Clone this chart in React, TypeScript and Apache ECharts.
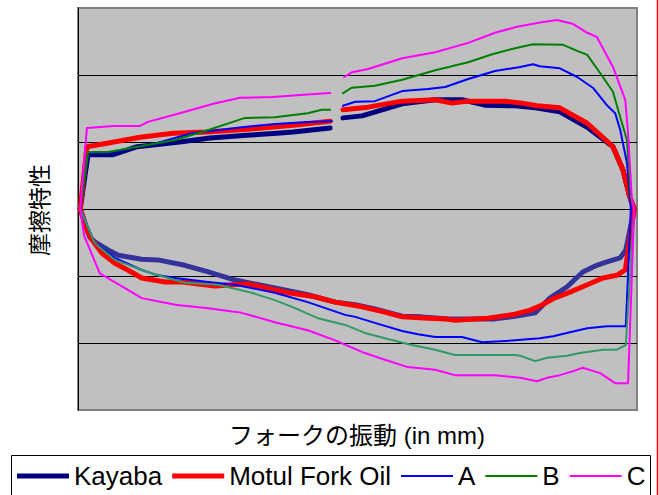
import React, { useEffect, useRef } from "react";
import * as echarts from "echarts";

type Pt = [number, number] | null;

// Axis extents (x: stroke position scale 0..100, y: friction -3..3)
const xRange = [0, 100];
const yRange = [-3, 3];
const yInterval = 1;

const seriesNames = ["Kayaba", "Motul Fork Oil", "A", "B", "C"];

// Upper (compression) branches, left to right; null = gap in the trace
const kayabaUp: Pt[] = [
  [0.4, 0], [1.8, 0.81], [6.3, 0.81], [10.6, 0.93], [18.2, 1.0], [23.6, 1.06], [30.2, 1.1], [35.6, 1.13],
  [38.5, 1.15], [45.1, 1.21], null, [47.4, 1.36], [50.8, 1.39], [58.0, 1.57], [63.9, 1.63], [68.7, 1.63],
  [72.8, 1.55], [78.2, 1.54], [81.8, 1.51], [86.2, 1.45], [91.1, 1.22], [95.7, 0.93], [97.5, 0.58],
  [98.7, 0.18], [99.5, 0],
];
const motulUp: Pt[] = [
  [0.4, 0], [1.6, 0.93], [5.7, 0.99], [11.1, 1.07], [17.0, 1.13], [23.1, 1.15], [30.2, 1.19], [38.5, 1.25],
  [45.1, 1.31], null, [47.4, 1.48], [51.9, 1.52], [58.0, 1.61], [63.9, 1.63], [66.9, 1.58], [69.8, 1.61],
  [76.4, 1.61], [79.4, 1.58], [82.1, 1.54], [86.2, 1.51], [91.1, 1.28], [95.7, 0.93], [97.5, 0.58],
  [98.7, 0.18], [99.5, 0],
];
const aUp: Pt[] = [
  [0.4, 0], [1.8, 0.84], [5.4, 0.84], [14.3, 0.99], [20.4, 1.13], [29.3, 1.22], [35.2, 1.27], [41.1, 1.3],
  [45.4, 1.31], null, [47.4, 1.54], [49.6, 1.6], [53.1, 1.61], [58.0, 1.76], [62.6, 1.79], [65.7, 1.82],
  [69.8, 1.94], [74.6, 2.06], [79.1, 2.12], [81.4, 2.16], [82.6, 2.13], [86.2, 2.1], [89.3, 1.97],
  [92.1, 1.81], [94.6, 1.55], [96.1, 1.43], [97.0, 1.18], [98.2, 0.69], [98.9, 0],
];
const bUp: Pt[] = [
  [0.4, 0], [1.8, 0.85], [5.4, 0.85], [17.4, 1.03], [23.3, 1.18], [29.9, 1.36], [35.2, 1.37], [41.1, 1.43],
  [43.6, 1.48], [45.1, 1.48], null, [47.4, 1.73], [49.0, 1.81], [53.1, 1.84], [58.0, 1.93], [63.9, 2.07],
  [69.8, 2.19], [74.1, 2.31], [78.2, 2.4], [81.4, 2.46], [86.8, 2.45], [89.3, 2.36], [91.1, 2.3],
  [93.4, 2.03], [95.7, 1.75], [97.0, 1.37], [98.2, 1.03], [98.9, 0.15], [99.5, 0],
];
const cUp: Pt[] = [
  [0.4, 0], [1.6, 1.21], [6.3, 1.24], [11.1, 1.24], [12.5, 1.3], [18.2, 1.43], [24.2, 1.57], [29.0, 1.66],
  [34.9, 1.67], [39.7, 1.7], [45.1, 1.73], null, [47.6, 1.97], [49.0, 2.04], [51.9, 2.09], [58.0, 2.25],
  [63.9, 2.34], [69.8, 2.48], [74.6, 2.63], [78.5, 2.72], [83.2, 2.79], [85.7, 2.82], [88.6, 2.76],
  [91.1, 2.63], [92.8, 2.57], [95.7, 2.12], [97.9, 1.63], [98.4, 1.13], [99.1, 0.13], [99.5, 0],
];

// Lower (rebound) branches, right to left
const kayabaDown: Pt[] = [
  [99.5, 0], [98.0, -0.61], [97.0, -0.73], [94.6, -0.79], [92.8, -0.84], [90.3, -0.94], [87.5, -1.16],
  [84.4, -1.33], [81.8, -1.55], [78.2, -1.6], [74.6, -1.64], [71.0, -1.64], [66.2, -1.64], [61.5, -1.61],
  [58.0, -1.6], [53.1, -1.49], [49.6, -1.43], [46.0, -1.39], [41.1, -1.28], [35.2, -1.18], [28.1, -1.06],
  [23.3, -0.94], [19.1, -0.84], [14.3, -0.76], [11.4, -0.75], [7.2, -0.69], [5.4, -0.61], [3.0, -0.49],
  [2.1, -0.42], [1.6, -0.31], [0.9, -0.12], [0.4, 0],
];
const motulDown: Pt[] = [
  [99.5, 0], [98.7, -0.46], [97.9, -0.91], [96.4, -0.99], [93.9, -1.03], [91.1, -1.13], [88.0, -1.24],
  [85.0, -1.34], [82.6, -1.45], [80.9, -1.51], [78.2, -1.57], [73.3, -1.63], [71.0, -1.64], [67.4, -1.66],
  [65.7, -1.64], [62.6, -1.63], [58.0, -1.61], [54.9, -1.54], [50.8, -1.46], [46.0, -1.39], [42.4, -1.31],
  [37.6, -1.25], [30.4, -1.12], [27.5, -1.13], [24.5, -1.15], [18.6, -1.09], [15.6, -1.09], [11.4, -1.03],
  [8.9, -0.91], [6.6, -0.81], [4.3, -0.66], [2.5, -0.46], [1.6, -0.31], [0.4, 0],
];
const aDown: Pt[] = [
  [98.9, 0], [98.0, -1.75], [94.6, -1.75], [91.1, -1.78], [88.0, -1.84], [85.0, -1.9], [82.6, -1.93],
  [78.2, -1.96], [72.3, -1.99], [68.7, -1.91], [63.9, -1.91], [60.8, -1.87], [58.0, -1.82], [53.1, -1.7],
  [49.6, -1.61], [47.8, -1.58], [41.1, -1.39], [35.2, -1.25], [28.1, -1.13], [23.3, -1.09], [17.4, -1.03],
  [14.3, -0.99], [11.4, -0.91], [6.6, -0.73], [3.0, -0.51], [0.4, 0],
];
const bDown: Pt[] = [
  [99.5, 0], [98.0, -2.03], [96.4, -2.1], [93.9, -2.1], [89.8, -2.15], [87.5, -2.19], [83.9, -2.22],
  [81.8, -2.27], [79.1, -2.19], [78.2, -2.18], [67.4, -2.18], [63.9, -2.1], [59.7, -2.03], [54.9, -1.93],
  [51.3, -1.85], [47.8, -1.73], [42.9, -1.63], [38.3, -1.46], [35.2, -1.36], [31.1, -1.25], [25.0, -1.13],
  [19.1, -1.1], [14.3, -0.99], [11.4, -0.91], [6.6, -0.76], [3.0, -0.51], [0.4, 0],
];
const cDown: Pt[] = [
  [99.5, 0], [98.4, -2.6], [96.1, -2.6], [93.4, -2.45], [90.3, -2.37], [88.6, -2.42], [86.2, -2.48],
  [83.9, -2.52], [82.1, -2.57], [79.1, -2.52], [78.2, -2.51], [74.6, -2.48], [67.4, -2.48], [63.9, -2.4],
  [59.0, -2.36], [54.9, -2.25], [51.3, -2.15], [46.0, -1.96], [41.1, -1.81], [35.2, -1.69], [29.3, -1.55],
  [23.3, -1.48], [17.4, -1.43], [11.4, -1.33], [8.4, -1.18], [3.9, -0.96], [1.1, -0.4], [0.4, 0],
];

const toData = (arr: Pt[]) => arr.map((p) => (p ? p : ["-", "-"]));

const FONT = '"Liberation Sans", Arial, "Noto Sans CJK JP", sans-serif';
const THICK_ICON = "path://M0,0H52V5H0Z";
const THIN_ICON = "path://M0,0H52V2H0Z";

export default function App() {
  const ref = useRef<HTMLDivElement>(null);

  useEffect(() => {
    if (!ref.current) return;
    const chart = echarts.init(ref.current, undefined, { renderer: "svg" });

    const mk = (name: string, data: Pt[], color: string, width: number) => ({
      name,
      type: "line",
      data: toData(data),
      symbol: "none",
      showSymbol: false,
      connectNulls: false,
      silent: true,
      lineStyle: { color, width, cap: "round", join: "round" },
      itemStyle: { color },
      emphasis: { disabled: true },
    });

    const option: any = {
      animation: false,
      backgroundColor: "#ffffff",
      grid: {
        left: 78,
        top: 8,
        width: 559,
        height: 402,
        show: true,
        backgroundColor: "#c0c0c0",
        borderColor: "#808080",
        borderWidth: 2,
      },
      xAxis: {
        type: "value",
        min: xRange[0],
        max: xRange[1],
        axisLine: { show: false },
        axisTick: { show: false },
        axisLabel: { show: false },
        splitLine: { show: false },
      },
      yAxis: {
        type: "value",
        min: yRange[0],
        max: yRange[1],
        interval: yInterval,
        axisLine: { show: true, lineStyle: { color: "#000000", width: 1 } },
        axisTick: { show: false },
        axisLabel: { show: false },
        splitLine: {
          show: true,
          lineStyle: {
            color: ["#808080", "#000000", "#000000", "#000000", "#000000", "#000000", "#808080"],
            width: 1,
          },
        },
      },
      legend: {
        left: 17,
        top: 463,
        padding: 0,
        itemWidth: 52,
        itemHeight: 14,
        itemGap: 10,
        selectedMode: false,
        textStyle: { fontSize: 26, fontFamily: FONT, color: "#000000" },
        data: [
          { name: seriesNames[0], icon: THICK_ICON, itemStyle: { color: "#000080" } },
          { name: seriesNames[1], icon: THICK_ICON, itemStyle: { color: "#ff0000" } },
          { name: seriesNames[2], icon: THIN_ICON, itemStyle: { color: "#0000ff" } },
          { name: seriesNames[3], icon: THIN_ICON, itemStyle: { color: "#008000" } },
          { name: seriesNames[4], icon: THIN_ICON, itemStyle: { color: "#ff00ff" } },
        ],
      },
      graphic: [
        {
          type: "rect",
          shape: { x: 11.5, y: 455.5, width: 639, height: 60 },
          style: { fill: "none", stroke: "#000000", lineWidth: 1 },
          silent: true,
        },
        {
          type: "line",
          shape: { x1: 657.5, y1: 0, x2: 657.5, y2: 495 },
          style: { stroke: "#ff0000", lineWidth: 1.5 },
          silent: true,
        },
        {
          type: "text",
          x: 357,
          y: 435,
          style: {
            text: "フォークの振動 (in mm)",
            fontSize: 24,
            fontFamily: FONT,
            fill: "#000000",
            textAlign: "center",
            textVerticalAlign: "middle",
          },
          silent: true,
        },
        {
          type: "text",
          x: 40,
          y: 210,
          rotation: Math.PI / 2,
          style: {
            text: "摩擦特性",
            fontSize: 23,
            fontFamily: FONT,
            fill: "#000000",
            textAlign: "center",
            textVerticalAlign: "middle",
          },
          silent: true,
        },
      ],
      series: [
        mk(seriesNames[0], kayabaUp, "#000080", 5),
        mk("Kayaba (return)", kayabaDown, "#333399", 5),
        mk(seriesNames[1], motulUp, "#ff0000", 5),
        mk("Motul Fork Oil (return)", motulDown, "#ff0000", 5),
        mk(seriesNames[2], aUp, "#0000ff", 2),
        mk("A (return)", aDown, "#0000ff", 2),
        mk(seriesNames[3], bUp, "#008000", 2),
        mk("B (return)", bDown, "#339966", 2),
        mk(seriesNames[4], cUp, "#ff00ff", 2),
        mk("C (return)", cDown, "#ff00ff", 2),
      ],
    };

    chart.setOption(option);
    return () => chart.dispose();
  }, []);

  return (
    <div
      ref={ref}
      style={{ position: "fixed", left: 0, top: 0, width: 659, height: 495 }}
    />
  );
}
